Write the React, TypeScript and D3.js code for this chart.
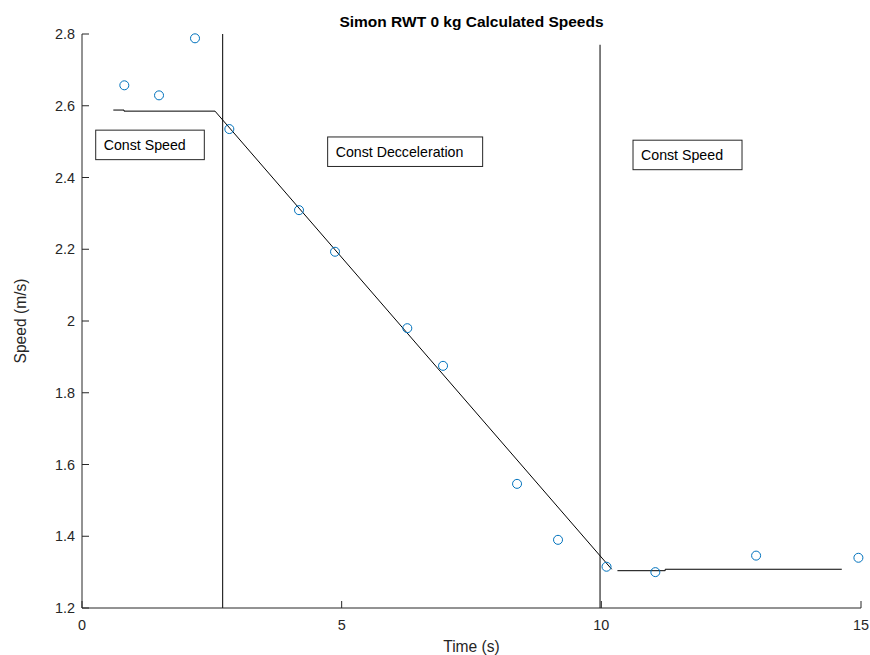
import React from "react";
import * as d3 from "d3";

// Measured speeds (time in s, speed in m/s)
const sampleTimes = [0.815, 1.483, 2.176, 2.837, 4.179, 4.872, 6.264, 6.952, 8.377, 9.166, 10.1, 11.04, 12.98, 14.95];
const sampleSpeeds = [2.657, 2.629, 2.788, 2.535, 2.309, 2.193, 1.98, 1.875, 1.546, 1.39, 1.315, 1.3, 1.346, 1.34];

// Piecewise fit: constant speed, then constant deceleration
const fitTimes = [0.603, 0.809, 0.809, 2.561, 10.2];
const fitSpeeds = [2.588, 2.588, 2.585, 2.585, 1.308];

// Final constant-speed section
const fit2Times = [10.31, 11.23, 11.23, 14.63];
const fit2Speeds = [1.304, 1.304, 1.308, 1.308];

// Phase boundaries
const boundaryTimes = [2.709, 9.975];
const boundaryTops = [2.8, 2.77];

// Phase labels
const phaseLabels = ["Const Speed", "Const Decceleration", "Const Speed"];
const phaseTimes = [0.264, 4.73, 10.61];
const phaseSpeeds = [2.532, 2.513, 2.504];
const phaseWidths = [108.6, 155, 109];

const xTicks = [0, 5, 10, 15];
const yTicks = [1.2, 1.4, 1.6, 1.8, 2, 2.2, 2.4, 2.6, 2.8];

const W = 870;
const H = 655;
const left = 82;
const right = 861;
const top = 34;
const bottom = 608;

const axisColor = "#262626";
const font = "'Liberation Sans', Arial, sans-serif";

export default function App() {
  const x = d3.scaleLinear().domain([0, 15]).range([left, right]);
  const y = d3.scaleLinear().domain([1.2, 2.8]).range([bottom, top]);

  const line = d3
    .line<[number, number]>()
    .x((d) => x(d[0]))
    .y((d) => y(d[1]));

  const fit1 = line(fitTimes.map((t, i) => [t, fitSpeeds[i]]));
  const fit2 = line(fit2Times.map((t, i) => [t, fit2Speeds[i]]));

  const tickLen = 7;

  return (
    <svg
      width={W}
      height={H}
      style={{ position: "absolute", left: 0, top: 0, background: "#fff" }}
      fontFamily={font}
    >
      <rect x={0} y={0} width={W} height={H} fill="#fff" />

      {/* title */}
      <text x={(left + right) / 2} y={26.7} textAnchor="middle" fontSize={15.5} fontWeight="bold" fill="#000">
        Simon RWT 0 kg Calculated Speeds
      </text>

      {/* phase boundaries */}
      {boundaryTimes.map((t, i) => (
        <line
          key={"b" + i}
          x1={x(t)}
          x2={x(t)}
          y1={y(boundaryTops[i])}
          y2={bottom}
          stroke="#000"
          strokeWidth={1}
        />
      ))}

      {/* fitted lines */}
      <path d={fit1 ?? ""} fill="none" stroke="#000" strokeWidth={1} />
      <path d={fit2 ?? ""} fill="none" stroke="#000" strokeWidth={1} />

      {/* samples */}
      {sampleTimes.map((t, i) => (
        <circle
          key={"p" + i}
          cx={x(t)}
          cy={y(sampleSpeeds[i])}
          r={4.5}
          fill="none"
          stroke="#0072BD"
          strokeWidth={1}
        />
      ))}

      {/* phase labels */}
      {phaseLabels.map((s, i) => {
        const bx = x(phaseTimes[i]);
        const by = y(phaseSpeeds[i]);
        return (
          <g key={"l" + i}>
            <rect x={bx} y={by} width={phaseWidths[i]} height={29.5} fill="#fff" stroke={axisColor} strokeWidth={1} />
            <text x={bx + 8} y={by + 20} fontSize={14.2} fill="#000">
              {s}
            </text>
          </g>
        );
      })}

      {/* axes */}
      <line x1={left} x2={left} y1={top} y2={bottom} stroke={axisColor} strokeWidth={1} />
      <line x1={left} x2={right} y1={bottom} y2={bottom} stroke={axisColor} strokeWidth={1} />

      {yTicks.map((v) => (
        <g key={"y" + v}>
          <line x1={left} x2={left + tickLen} y1={y(v)} y2={y(v)} stroke={axisColor} strokeWidth={1} />
          <text x={left - 7} y={y(v)} dy="0.36em" textAnchor="end" fontSize={14.4} fill={axisColor}>
            {d3.format("~g")(v)}
          </text>
        </g>
      ))}

      {xTicks.map((v) => (
        <g key={"x" + v}>
          <line x1={x(v)} x2={x(v)} y1={bottom} y2={bottom - tickLen} stroke={axisColor} strokeWidth={1} />
          <text x={x(v)} y={bottom + 22} textAnchor="middle" fontSize={14.4} fill={axisColor}>
            {v}
          </text>
        </g>
      ))}

      {/* axis labels */}
      <text x={(left + right) / 2} y={651.5} textAnchor="middle" fontSize={15.6} fill={axisColor}>
        Time (s)
      </text>
      <text
        transform={`translate(26, ${(top + bottom) / 2}) rotate(-90)`}
        textAnchor="middle"
        fontSize={15.6}
        fill={axisColor}
      >
        Speed (m/s)
      </text>
    </svg>
  );
}
